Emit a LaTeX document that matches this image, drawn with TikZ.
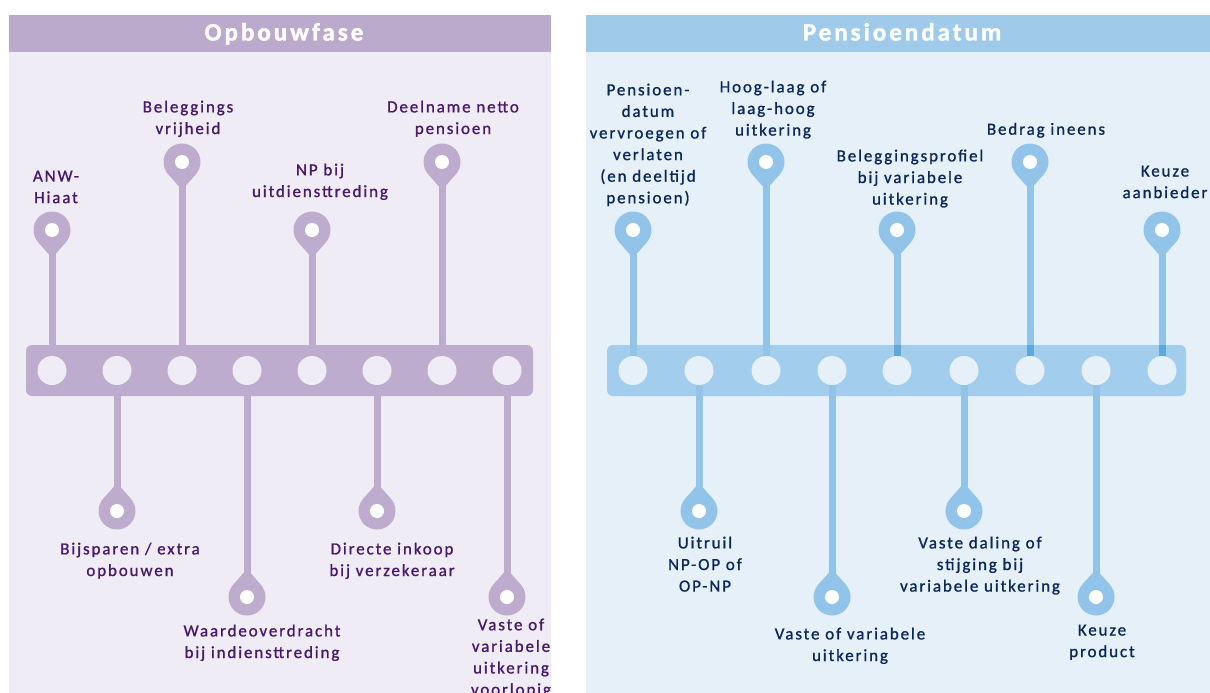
\documentclass[tikz,border=0pt]{standalone}
\usepackage{fontspec}
\setmainfont{Carlito}
\newfontfamily\lblfont[LetterSpace=11,FakeBold=1]{Carlito}
\newfontfamily\ttlfont[LetterSpace=12,FakeBold=1.5]{Carlito}
\pgfdeclarelayer{bglayer}
\pgfdeclarelayer{midlayer}
\pgfsetlayers{bglayer,midlayer,main}
\definecolor{lhead}{HTML}{BCAACC}
\definecolor{lbg}{HTML}{F0ECF5}
\definecolor{lbar}{HTML}{BEACCE}
\definecolor{ltext}{HTML}{46196A}
\definecolor{rhead}{HTML}{A0CAEA}
\definecolor{rbg}{HTML}{E6F0F9}
\definecolor{rbar}{HTML}{A3CDEC}
\definecolor{rpin}{HTML}{92C4EA}
\definecolor{rdark}{HTML}{5FA8DC}
\definecolor{rtext}{HTML}{0B2658}
\tikzset{
  barhole/.style={circle, fill=#1, inner sep=0pt, minimum size=29pt},
  pinhead/.style={circle, fill=#1, inner sep=0pt, minimum size=37pt},
  pinhole/.style={circle, fill=white, inner sep=0pt, minimum size=14pt},
  stem/.style={line width=7pt, draw=#1},
  barbox/.style={rounded corners=6pt, fill=#1, inner sep=0pt, minimum height=51pt},
  lbl/.style={font=\lblfont\fontsize{17}{21.6}\selectfont, text=#1, align=center,
              inner sep=0pt, anchor=north, execute at begin node=\strut},
  ttl/.style={font=\ttlfont\bfseries\fontsize{25}{30}\selectfont, text=white,
              anchor=base, inner sep=0pt},
}
\newcommand\pinmark[4]{%
  \node[pinhead=#4] (#1) at #2 {};
  \fill[#4] ([shift={(0,#3*28)}]#1.center) -- ([shift={(13.46,#3*12.69)}]#1.center)
     -- ([shift={(-13.46,#3*12.69)}]#1.center) -- cycle;
  \node[pinhole] at (#1) {};
}
\begin{document}
\begin{tikzpicture}[x=1pt,y=-1pt]
\useasboundingbox (0,0) rectangle (1210,693);
\begin{pgfonlayer}{bglayer}
  % left panel
  \fill[lbg] (9,15) rectangle (551,693);
  \fill[lhead] (9,15) rectangle (551,52);
  \node[barbox=lbar, minimum width=507pt] (barL) at (279.5,370.5) {};
  % right panel
  \fill[rbg] (586,15) rectangle (1210,693);
  \fill[rhead] (586,15) rectangle (1210,52);
  \node[barbox=rbar, minimum width=579pt] (barR) at (896.5,370.5) {};
\end{pgfonlayer}

\node[ttl] (tL) at (284,40.5) {Opbouwfase};
\node[ttl] (tR) at (902,40.5) {Pensioendatum};

% left bar holes
\foreach \n/\x in {1/52,2/117,3/182,4/247,5/312,6/377,7/442,8/507}
  \node[barhole=lbg] (L\n) at (\x,370.5) {};
% right bar holes
\foreach \n/\x in {1/633,2/699,3/766,4/832,5/897,6/964,7/1030,8/1096,9/1162}
  \node[barhole=rbg] (R\n) at (\x,370.5) {};

% left pins
\pinmark{pL1}{(52,230)}{1}{lbar}
\pinmark{pL2}{(117,511)}{-1}{lbar}
\pinmark{pL3}{(182,162)}{1}{lbar}
\pinmark{pL4}{(247,597)}{-1}{lbar}
\pinmark{pL5}{(312,230)}{1}{lbar}
\pinmark{pL6}{(377,511)}{-1}{lbar}
\pinmark{pL7}{(442,162)}{1}{lbar}
\pinmark{pL8}{(507,597)}{-1}{lbar}
% right pins
\pinmark{pR1}{(633,230)}{1}{rpin}
\pinmark{pR2}{(699,511)}{-1}{rpin}
\pinmark{pR3}{(766,162)}{1}{rpin}
\pinmark{pR4}{(832,597)}{-1}{rpin}
\pinmark{pR5}{(897,230)}{1}{rpin}
\pinmark{pR6}{(964,511)}{-1}{rpin}
\pinmark{pR7}{(1030,162)}{1}{rpin}
\pinmark{pR8}{(1096,597)}{-1}{rpin}
\pinmark{pR9}{(1162,230)}{1}{rpin}

\begin{pgfonlayer}{midlayer}
  \foreach \n in {1,...,8} \draw[stem=lbar] (L\n) -- (pL\n);
  \foreach \n in {1,...,9} \draw[stem=rpin] (R\n) -- (pR\n);
  \foreach \n in {5,7,9} \draw[stem=rdark] (R\n |- barR.north) -- (R\n);
\end{pgfonlayer}

% left labels
\node[lbl=ltext] (lA) at (56,170.4) {ANW-\\Hiaat};
\node[lbl=ltext] (lB) at (188,100.4) {Beleggings\\vrijheid};
\node[lbl=ltext] (lC) at (320,163.4) {NP bij\\uitdiensttreding};
\node[lbl=ltext] (lD) at (453,100.4) {Deelname netto\\pensioen};
\node[lbl=ltext] (lE) at (130,542.4) {Bijsparen / extra\\opbouwen};
\node[lbl=ltext] (lF) at (262,624.4) {Waardeoverdracht\\bij indiensttreding};
\node[lbl=ltext] (lG) at (392,542.4) {Directe inkoop\\bij verzekeraar};
\begin{scope}
  \clip (9,15) rectangle (551,693);
  \node[lbl=ltext] (lH) at (511,618.4) {Vaste of\\variabele\\uitkering\\voorlopig};
\end{scope}

% right labels
\node[lbl=rtext] (rA) at (648,83.4) {Pensioen-\\datum\\vervroegen of\\verlaten\\(en deeltijd\\pensioen)};
\node[lbl=rtext] (rB) at (773,80.4) {Hoog-laag of\\laag-hoog\\uitkering};
\node[lbl=rtext] (rC) at (910,149.4) {Beleggingsprofiel\\bij variabele\\uitkering};
\node[lbl=rtext] (rD) at (1046,119.4) {Bedrag ineens};
\node[lbl=rtext] (rE) at (1165,165.4) {Keuze\\aanbieder};
\node[lbl=rtext] (rF) at (705,536.4) {Uitruil\\NP-OP of\\OP-NP};
\node[lbl=rtext] (rG) at (850,627.4) {Vaste of variabele\\uitkering};
\node[lbl=rtext] (rH) at (980,536.4) {Vaste daling of\\stijging bij\\variabele uitkering};
\node[lbl=rtext] (rI) at (1102,624.4) {Keuze\\product};
\end{tikzpicture}
\end{document}
